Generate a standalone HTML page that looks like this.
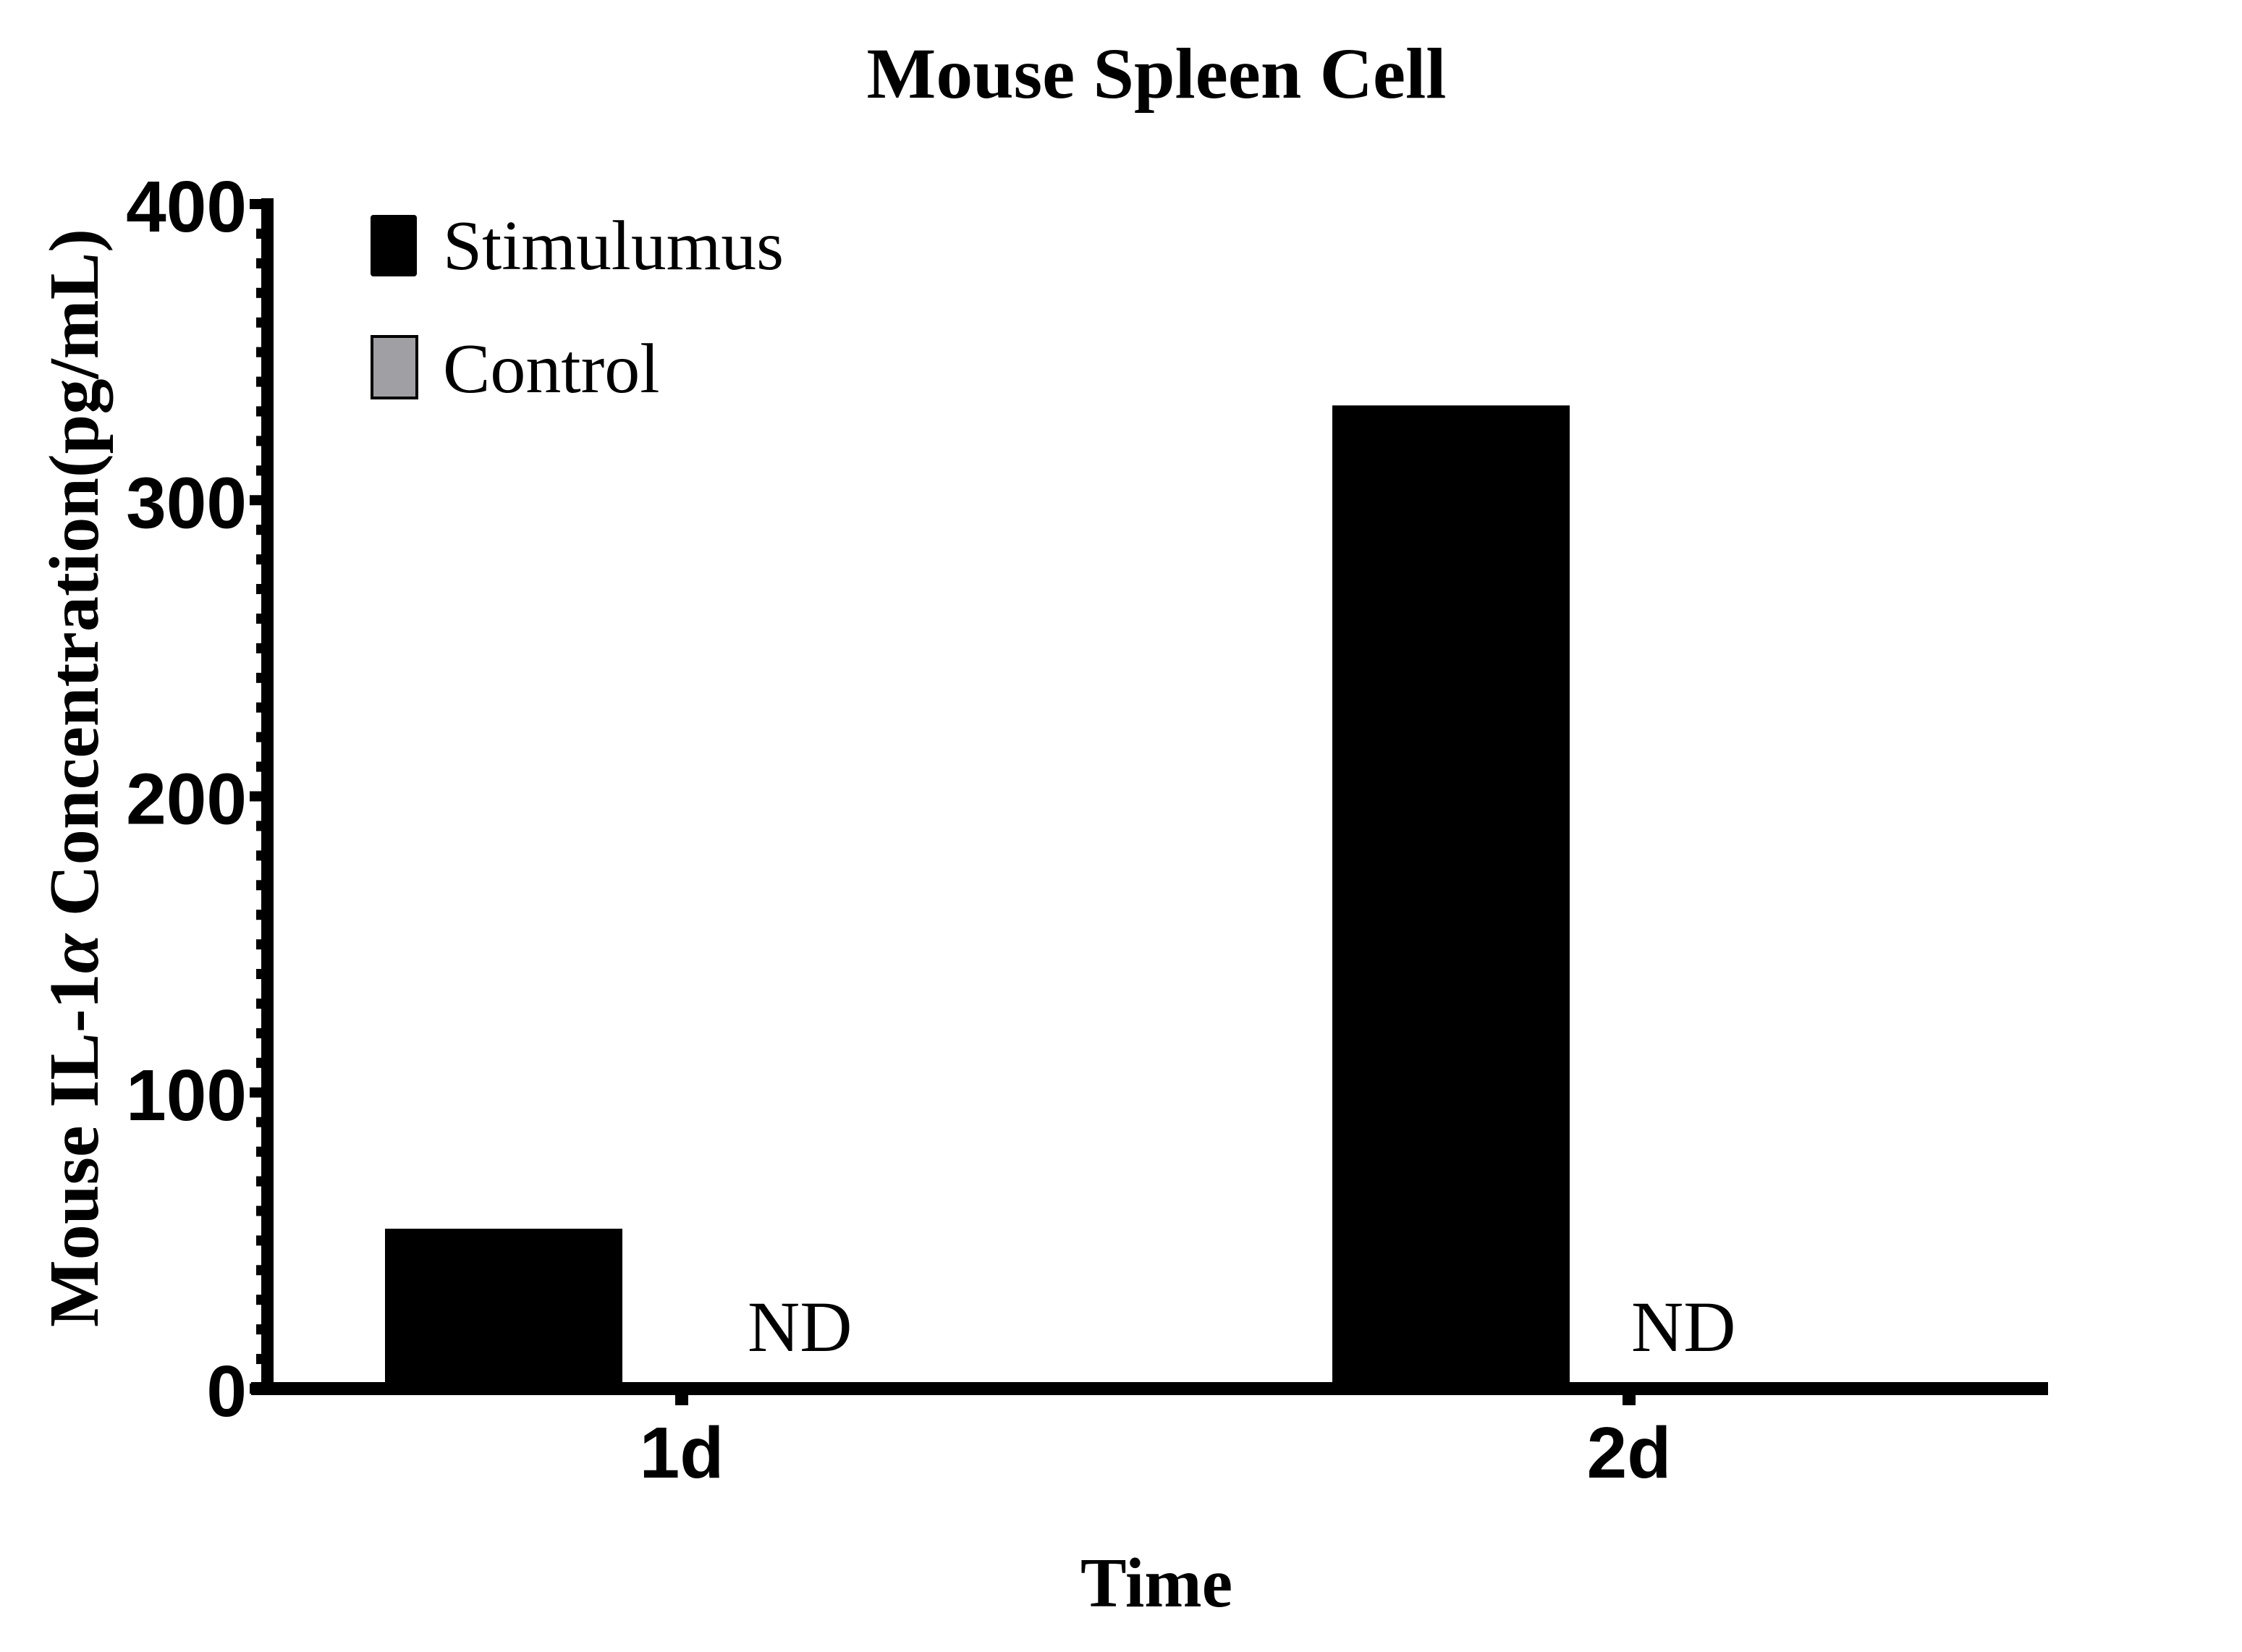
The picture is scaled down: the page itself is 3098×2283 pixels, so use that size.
<!DOCTYPE html>
<html><head><meta charset="utf-8"><style>html,body{margin:0;padding:0;background:#fff}svg{display:block}</style></head>
<body>
<svg id="chart" xmlns="http://www.w3.org/2000/svg" width="3098" height="2283" viewBox="0 0 3098 2283">
<rect width="3098" height="2283" fill="#fff"/>
<text x="1598" y="135" text-anchor="middle" font-family="Liberation Serif, serif" font-weight="bold" font-size="100" textLength="801" lengthAdjust="spacingAndGlyphs">Mouse Spleen Cell</text>
<text transform="translate(135,1075) rotate(-90)" text-anchor="middle" font-family="Liberation Serif, serif" font-weight="bold" font-size="98" textLength="1518" lengthAdjust="spacingAndGlyphs">Mouse IL-1<tspan font-style="italic">α</tspan> Concentration(pg/mL)</text>
<text x="1598" y="2220" text-anchor="middle" font-family="Liberation Serif, serif" font-weight="bold" font-size="98" textLength="210" lengthAdjust="spacingAndGlyphs">Time</text>
<g>
<rect x="512" y="297" width="64" height="85" rx="4" fill="#000"/>
<text x="612" y="372" font-family="Liberation Serif, serif" font-size="98" textLength="471" lengthAdjust="spacingAndGlyphs">Stimulumus</text>
<rect x="514" y="465" width="62" height="85" fill="#a0a0a4" stroke="#000" stroke-width="4"/>
<text x="612" y="542" font-family="Liberation Serif, serif" font-size="98">Control</text>
</g>
<g id="plot"></g>
</svg>
<script>
const categories = ["1d", "2d"];
const stimulumusValues = [54, 332];
const controlLabels = ["ND", "ND"];
const yTickValues = [0, 100, 200, 300, 400];
const yTickLabels = ["0", "100", "200", "300", "400"];

const NS = "http://www.w3.org/2000/svg";
const g = document.getElementById("plot");
const y0 = 1919, yTop = 282, yMax = 400;
function yScale(v){ return y0 - (y0 - yTop) * v / yMax; }
const xStart = 942, xStep = 1309;
function xScale(i){ return xStart + i * xStep; }
const ndOffsets = [91, 3];
function mk(tag, attrs){ const e = document.createElementNS(NS, tag); for (const k in attrs) e.setAttribute(k, attrs[k]); g.appendChild(e); return e; }

stimulumusValues.forEach((v, i) => {
  const cx = xScale(i) - 246;
  const b = mk("rect", {x: cx - 164, y: yScale(v), width: 328, height: y0 - yScale(v), fill: "#000"});
  
  
});
controlLabels.forEach((t, i) => {
  const e = mk("text", {x: xScale(i) + ndOffsets[i], y: 1867, "font-family": "Liberation Serif, serif", "font-size": "100"});
  e.textContent = t;
  
  
});
const ya = mk("rect", {x: 361, y: 274, width: 17, height: y0 - 274 + 9, fill: "#000"});


for (let v = 0; v <= yMax; v += 10) {
  const major = v % 100 === 0;
  const t = mk("rect", {x: major ? 345 : 354, y: yScale(v) - 7, width: major ? 20 : 10, height: 14, fill: "#000"});
  
  
}
yTickValues.forEach((v, i) => {
  const e = mk("text", {x: 341, y: yScale(v) + 38, "text-anchor": "end", "font-family": "Liberation Sans, sans-serif", "font-weight": "bold", "font-size": "100"});
  e.textContent = yTickLabels[i];
  
  
});
const xa = mk("rect", {x: 347, y: 1910, width: 2483, height: 18, fill: "#000"});


categories.forEach((c, i) => {
  const t = mk("rect", {x: xScale(i) - 9, y: 1920, width: 18, height: 22, fill: "#000"});
  
  
  const e = mk("text", {x: xScale(i), y: 2042, "text-anchor": "middle", "font-family": "Liberation Sans, sans-serif", "font-weight": "bold", "font-size": "100"});
  e.textContent = c;
  
  
});
</script>
</body></html>
